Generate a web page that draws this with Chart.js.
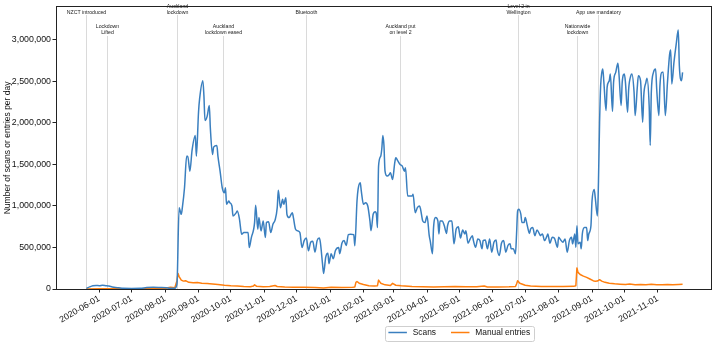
<!DOCTYPE html>
<html><head><meta charset="utf-8">
<script src="https://cdn.jsdelivr.net/npm/chart.js@4/dist/chart.umd.min.js"></script>
<style>html,body{margin:0;padding:0;background:#fff;overflow:hidden}#wrap{position:relative;width:714px;height:342px}</style>
</head><body><div id="wrap"><canvas id="c" width="714" height="342"></canvas></div>
<script>
// Day offsets are counted from DAY0 (2020-06-01)
const DAY0 = '2020-06-01';
const seriesNames = ['Scans', 'Manual entries'];
const seriesColors = ['#3a7fbf', '#ff7f0e'];

const scanDay = [-12,-9,-6,-3,0,3,6,9,12,15,18,22,30,38,44,50,56,62,66,70,72,
74,76,77,79,81,82,84,86,89,90,92,93,96,97,98,100,102,103,105,106,109,110,112,114,116,117,118,120,121,123,124,127,128,130,132,134,136,138,139,141,144,145,147,148,150,152,154,155,157,159,161,163,165,166,168,170,171,173,174,176,179,180,182,184,186,188,190,192,194,196,198,200,202,204,205,207,208,210,212,213,215,217,219,222,223,225,227,229,231,233,236,237,239,240,242,243,245,247,249,251,252,254,256,257,258,259,261,262,263,264,265,267,269,270,272,274,275,277,279,281,283,284,286,288,290,291,293,295,297,298,300,302,304,306,307,309,310,312,314,315,316,318,320,322,323,325,327,328,329,331,333,334,335,337,339,340,342,344,346,347,349,351,353,355,356,358,360,362,364,366,368,369,371,373,375,377,379,381,382,384,386,387,388,389,391,392,394,395,397,399,400,402,404,406,408,409,411,413,415,416,418,420,422,425,426,428,430,432,434,436,438,439,441,442,443,444,446,447,448,450,452,453,454,456,457,459,460,462,463,464,465,466,467,468,470,471,473,474,476,477,479,481,482,484,485,487,488,490,491,493,494,496,497,499,500,502,504,505,507,508,510,511,512,514,516,517,519,520,522,523,525,527,529,530,531,533,535,537,538,540,541];
const scanValue = [8000,25000,38000,42000,40000,45000,40000,35000,25000,18000,14000,8000,6000,8000,18000,20000,18000,15000,8000,10000,60000,
980000,900000,980000,1220000,1600000,1600000,1420000,1670000,1850000,1600000,2130000,2290000,2510000,2330000,2030000,2080000,2210000,1930000,1620000,1710000,1730000,1600000,1420000,1220000,1160000,1220000,1020000,1060000,1040000,1000000,880000,920000,940000,840000,660000,680000,680000,680000,500000,620000,800000,1010000,720000,860000,700000,820000,620000,800000,810000,680000,780000,830000,980000,1190000,980000,1080000,1020000,1100000,900000,860000,920000,860000,720000,700000,680000,500000,583000,615000,460000,563000,575000,445000,583000,615000,563000,305000,187000,385000,432000,305000,425000,365000,464000,500000,425000,551000,583000,524000,655000,660000,655000,520000,1060000,1200000,1280000,1180000,1020000,1040000,1000000,820000,702000,900000,932000,900000,740000,1480000,1600000,1690000,1850000,1730000,1420000,1360000,1380000,1400000,1320000,1520000,1580000,1540000,1500000,1480000,1420000,1460000,1120000,1120000,1120000,1140000,920000,980000,1000000,960000,820000,800000,880000,643000,575000,425000,740000,860000,820000,663000,820000,820000,762000,670000,762000,820000,820000,680000,544000,722000,750000,680000,615000,710000,663000,702000,551000,603000,643000,583000,503000,603000,583000,484000,583000,591000,484000,603000,444000,563000,591000,484000,405000,551000,583000,444000,524000,544000,484000,484000,425000,663000,940000,960000,900000,800000,800000,860000,762000,670000,722000,740000,643000,710000,670000,643000,663000,583000,631000,663000,551000,623000,615000,503000,623000,591000,563000,603000,444000,583000,623000,544000,663000,503000,762000,544000,563000,484000,663000,740000,740000,583000,663000,762000,1060000,1200000,1100000,880000,1300000,2000000,2450000,2600000,2650000,2490000,2150000,2430000,2510000,2590000,2140000,2490000,2610000,2720000,2590000,2210000,2490000,2590000,2490000,2130000,2410000,2570000,2590000,2370000,2090000,2430000,2570000,2510000,2010000,2330000,2490000,2540000,2210000,1730000,2370000,2610000,2650000,2410000,2090000,2450000,2610000,2610000,2090000,2490000,2830000,2880000,2470000,2730000,2940000,3120000,2690000,2510000,2610000];

const manualDay = [-12,0,20,40,60,66,70,72,73,74,76,78,80,83,87,91,95,100,105,110,116,122,128,134,140,143,144,146,152,158,163,165,172,180,190,200,208,215,225,235,237,238,239,241,245,250,255,258,259,261,265,270,272,275,280,290,300,310,320,330,340,350,357,360,370,380,386,387,388,390,395,400,410,420,430,440,442,443,444,446,449,452,455,458,460,462,464,466,469,473,478,483,488,492,497,502,507,512,517,522,527,532,537,541];
const manualValue = [1000,2000,2000,3000,5000,20000,15000,100000,187000,150000,107000,95000,100000,80000,75000,78000,70000,65000,60000,55000,45000,38000,35000,30000,28000,35000,50000,32000,28000,30000,42000,30000,25000,22000,20000,18000,12000,20000,18000,22000,25000,80000,90000,70000,55000,40000,35000,40000,107000,70000,50000,42000,68000,45000,38000,30000,27000,25000,28000,30000,26000,28000,35000,24000,25000,27000,30000,60000,99000,70000,45000,35000,30000,30000,30000,32000,40000,254000,200000,175000,155000,140000,120000,100000,92000,95000,112000,95000,80000,70000,62000,58000,55000,60000,52000,55000,50000,58000,50000,52000,55000,50000,55000,58000];

const monthTicks = ['2020-06-01','2020-07-01','2020-08-01','2020-09-01','2020-10-01','2020-11-01','2020-12-01','2021-01-01','2021-02-01','2021-03-01','2021-04-01','2021-05-01','2021-06-01','2021-07-01','2021-08-01','2021-09-01','2021-10-01','2021-11-01'];
const yTicks = [0,500000,1000000,1500000,2000000,2500000,3000000];
const xLimits = [-40.2, 566.9];   // days from DAY0
const yLimits = [0, 3400000];

const eventDates = ['2020-05-20','2020-06-08','2020-08-12','2020-09-24','2020-12-10','2021-03-07','2021-06-24','2021-08-18','2021-09-07'];
const eventLabels = [['NZCT introduced'],['Lockdown','Lifted'],['Auckland','lockdown'],['Auckland','lockdown eased'],['Bluetooth'],['Auckland put','on level 2'],['Level 2 in','Wellington'],['Nationwide','lockdown'],['App use mandatory']];
const eventRow = [0,1,0,1,0,1,0,1,0];

function dayOf(s){
  const p = s.split('-').map(Number), q = DAY0.split('-').map(Number);
  return Math.round((Date.UTC(p[0],p[1]-1,p[2]) - Date.UTC(q[0],q[1]-1,q[2]))/86400000);
}

const FONT = '"Liberation Sans", Arial, sans-serif';
Chart.defaults.font.family = FONT;

const eventsPlugin = {
  id:'events',
  beforeDatasetsDraw(chart){
    const ctx = chart.ctx, xs = chart.scales.x, ca = chart.chartArea;
    ctx.save();
    eventDates.forEach((d,i)=>{
      const x = Math.round(xs.getPixelForValue(dayOf(d))) + 0.5;
      const row = eventRow[i];
      const yStart = row ? 36 : 15;
      ctx.strokeStyle = '#dadada'; ctx.lineWidth = 1;
      ctx.beginPath(); ctx.moveTo(x, yStart); ctx.lineTo(x, ca.bottom); ctx.stroke();
      ctx.fillStyle = '#222'; ctx.font = '5.2px ' + FONT;
      ctx.textAlign = 'center'; ctx.textBaseline = 'middle';
      const lines = eventLabels[i], base = row ? 33 : 12.5;
      lines.forEach((t,j)=>{ ctx.fillText(t, x, base - (lines.length-1-j)*6.2); });
    });
    ctx.restore();
  }
};

const framePlugin = {
  id:'frame',
  afterDatasetsDraw(chart){
    const ctx = chart.ctx, ca = chart.chartArea;
    ctx.save();
    ctx.strokeStyle = '#222'; ctx.lineWidth = 1;
    const l = Math.round(ca.left)+0.5, r = Math.round(ca.right)+0.5, t = Math.round(ca.top)-0.5, b = Math.round(ca.bottom)+0.5;
    ctx.strokeRect(l, t, r-l, b-t);
    ctx.restore();
  }
};

const legendPlugin = {
  id:'customLegend',
  afterDraw(chart){
    const ctx = chart.ctx;
    ctx.save();
    ctx.font = '8.4px ' + FONT;
    const sample = 18.5, gap = 5.8, itemGap = 15;
    const ds = chart.data.datasets;
    const widths = ds.map(d=>ctx.measureText(d.label).width);
    let total = 0;
    widths.forEach((w,i)=>{ total += sample + gap + w + (i < widths.length-1 ? itemGap : 0); });
    const cx = 459.3, cy = 332.5;
    let x = cx - total/2;
    const bx = x - 3.3, bw = total + 6.8, by = 326.5, bh = 15;
    ctx.fillStyle = 'rgba(255,255,255,0.9)';
    ctx.strokeStyle = '#cfcfcf'; ctx.lineWidth = 1;
    ctx.beginPath();
    if (ctx.roundRect) ctx.roundRect(Math.round(bx)+0.5, by, Math.round(bw), bh, 2); else ctx.rect(Math.round(bx)+0.5, by, Math.round(bw), bh);
    ctx.fill(); ctx.stroke();
    ds.forEach((d,i)=>{
      ctx.strokeStyle = d.borderColor; ctx.lineWidth = 1.5;
      ctx.beginPath(); ctx.moveTo(x, cy); ctx.lineTo(x+sample, cy); ctx.stroke();
      x += sample + gap;
      ctx.fillStyle = '#111'; ctx.textAlign = 'left'; ctx.textBaseline = 'middle';
      ctx.fillText(d.label, x, cy+0.5);
      x += widths[i] + itemGap;
    });
    ctx.restore();
  }
};

const tickFont = {family: FONT, size: 8.8};

new Chart(document.getElementById('c').getContext('2d'), {
  type:'line',
  data:{
    datasets:[
      {label:seriesNames[0], data:scanDay.map((d,i)=>({x:d,y:scanValue[i]})), borderColor:seriesColors[0], backgroundColor:seriesColors[0], borderWidth:1.5, pointRadius:0, cubicInterpolationMode:'monotone', fill:false, borderJoinStyle:'round'},
      {label:seriesNames[1], data:manualDay.map((d,i)=>({x:d,y:manualValue[i]})), borderColor:seriesColors[1], backgroundColor:seriesColors[1], borderWidth:1.5, pointRadius:0, tension:0, fill:false, borderJoinStyle:'round'}
    ]
  },
  options:{
    responsive:false, animation:false, devicePixelRatio:1,
    layout:{padding:{top:3,right:3.5,left:0,bottom:0}},
    plugins:{legend:{display:false}, tooltip:{enabled:false}},
    scales:{
      x:{
        type:'linear', min:xLimits[0], max:xLimits[1],
        afterBuildTicks:(s)=>{ s.ticks = monthTicks.map(t=>({value:dayOf(t)})); },
        afterFit:(s)=>{ s.height = 53; },
        ticks:{autoSkip:false, minRotation:30, maxRotation:30, padding:1, color:'#111', font:tickFont,
          callback:(v)=>{ const i = monthTicks.findIndex(t=>dayOf(t)===v); return i>=0 ? monthTicks[i] : ''; }},
        grid:{display:true, drawOnChartArea:false, drawTicks:true, tickLength:3.5, tickColor:'#222', tickWidth:1},
        border:{display:false}
      },
      y:{
        min:yLimits[0], max:yLimits[1],
        afterBuildTicks:(s)=>{ s.ticks = yTicks.map(v=>({value:v})); },
        afterFit:(s)=>{ s.width = 56; },
        ticks:{padding:1.5, color:'#111', font:tickFont, callback:(v)=>Number(v).toLocaleString('en-US')},
        grid:{display:true, drawOnChartArea:false, drawTicks:true, tickLength:3.5, tickColor:'#222', tickWidth:1},
        border:{display:false},
        title:{display:true, text:'Number of scans or entries per day', color:'#111', font:{family:FONT, size:8.5}, padding:{top:3,bottom:0}}
      }
    }
  },
  plugins:[eventsPlugin, framePlugin, legendPlugin]
});
</script>
</body></html>
